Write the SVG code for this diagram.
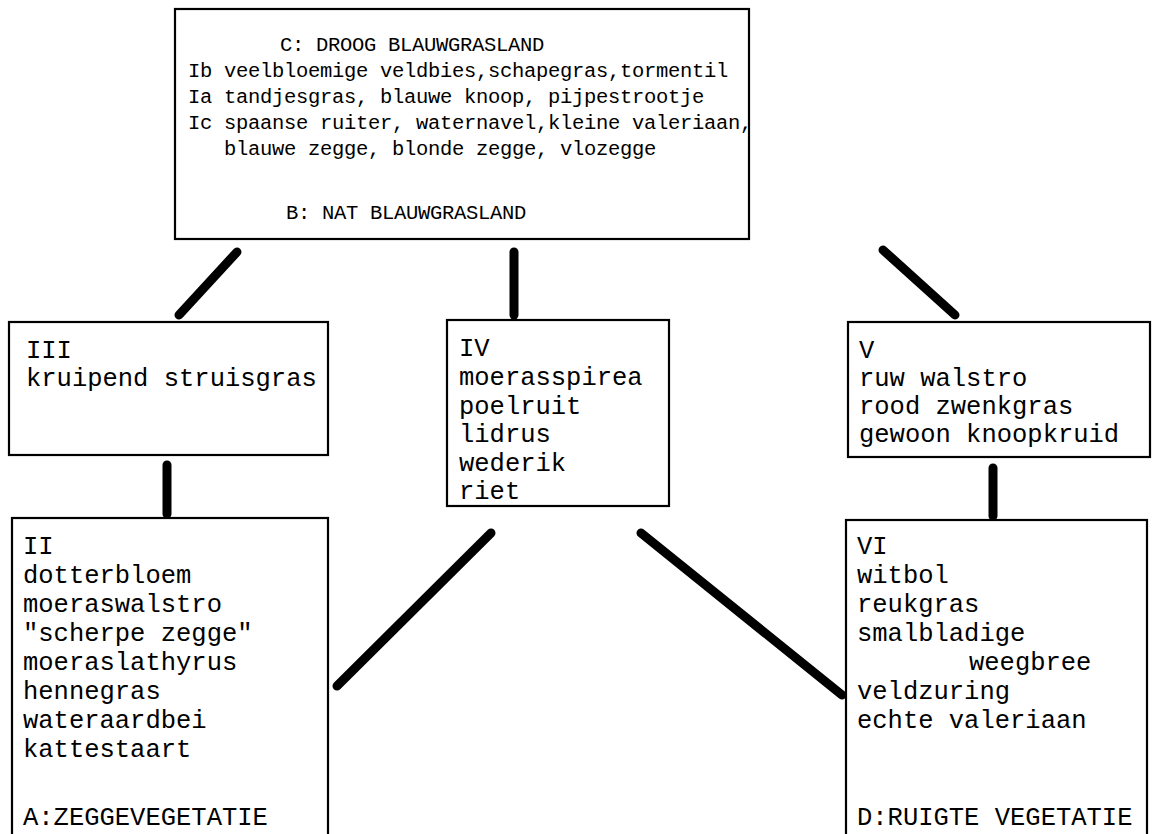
<svg xmlns="http://www.w3.org/2000/svg" width="1159" height="834" viewBox="0 0 1159 834">
<style>
.box{fill:none;stroke:#000;stroke-width:2.2}
.t{font-family:"Liberation Mono","Courier New",monospace;fill:#000}
.s{font-size:20.5px;letter-spacing:-0.3px}
.l{font-size:25.5px}
.c{stroke:#000;stroke-width:9;stroke-linecap:round;fill:none}
</style>
<rect width="1159" height="834" fill="#fff"/>
<g id="connectors">
<line class="c" x1="237" y1="252" x2="179" y2="315"/>
<line class="c" x1="514" y1="252" x2="514" y2="315"/>
<line class="c" x1="883" y1="250" x2="955" y2="315"/>
<line class="c" x1="167" y1="465" x2="167" y2="514"/>
<line class="c" x1="993" y1="468" x2="993" y2="516"/>
<line class="c" x1="491" y1="533" x2="337" y2="686"/>
<line class="c" x1="641" y1="533" x2="842" y2="695"/>
</g>
<g id="nodeTop">
<rect class="box" x="175" y="9" width="574" height="230"/>
<text class="t s" x="280" y="51">C: DROOG BLAUWGRASLAND</text>
<text class="t s" x="188" y="77">Ib veelbloemige veldbies,schapegras,tormentil</text>
<text class="t s" x="188" y="103">Ia tandjesgras, blauwe knoop, pijpestrootje</text>
<text class="t s" x="188" y="129">Ic spaanse ruiter, waternavel,kleine valeriaan,</text>
<text class="t s" x="224" y="155">blauwe zegge, blonde zegge, vlozegge</text>
<text class="t s" x="286" y="219">B: NAT BLAUWGRASLAND</text>
</g>
<g id="nodeIII">
<rect class="box" x="9" y="322" width="319" height="133"/>
<text class="t l" x="26" y="358">III</text>
<text class="t l" x="26" y="386">kruipend struisgras</text>
</g>
<g id="nodeIV">
<rect class="box" x="447" y="320" width="222" height="186"/>
<text class="t l" x="459" y="356">IV</text>
<text class="t l" x="459" y="385">moerasspirea</text>
<text class="t l" x="459" y="414">poelruit</text>
<text class="t l" x="459" y="442">lidrus</text>
<text class="t l" x="459" y="471">wederik</text>
<text class="t l" x="459" y="499">riet</text>
</g>
<g id="nodeV">
<rect class="box" x="848" y="322" width="302" height="135"/>
<text class="t l" x="859" y="358">V</text>
<text class="t l" x="859" y="386">ruw walstro</text>
<text class="t l" x="859" y="414">rood zwenkgras</text>
<text class="t l" x="859" y="442">gewoon knoopkruid</text>
</g>
<g id="nodeII">
<rect class="box" x="12" y="518" width="316" height="330"/>
<text class="t l" x="23" y="554">II</text>
<text class="t l" x="23" y="583">dotterbloem</text>
<text class="t l" x="23" y="612">moeraswalstro</text>
<text class="t l" x="23" y="641">"scherpe zegge"</text>
<text class="t l" x="23" y="670">moeraslathyrus</text>
<text class="t l" x="23" y="699">hennegras</text>
<text class="t l" x="23" y="728">wateraardbei</text>
<text class="t l" x="23" y="757">kattestaart</text>
<text class="t l" x="23" y="825">A:ZEGGEVEGETATIE</text>
</g>
<g id="nodeVI">
<rect class="box" x="846" y="520" width="301" height="330"/>
<text class="t l" x="857" y="554">VI</text>
<text class="t l" x="857" y="583">witbol</text>
<text class="t l" x="857" y="612">reukgras</text>
<text class="t l" x="857" y="641">smalbladige</text>
<text class="t l" x="969" y="670">weegbree</text>
<text class="t l" x="857" y="699">veldzuring</text>
<text class="t l" x="857" y="728">echte valeriaan</text>
<text class="t l" x="857" y="825">D:RUIGTE VEGETATIE</text>
</g>
</svg>
